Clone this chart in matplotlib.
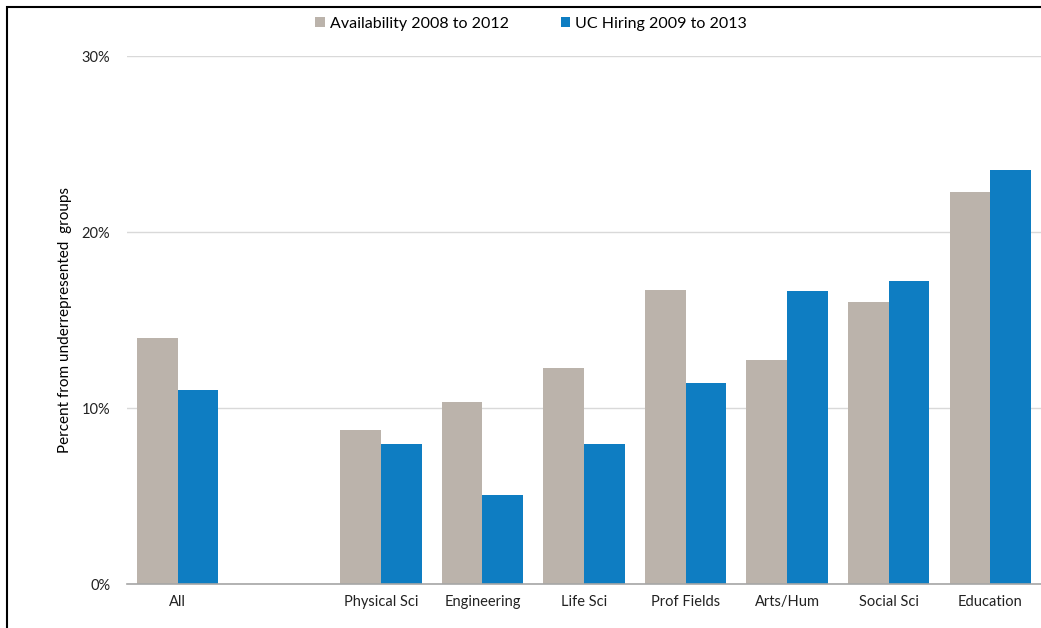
import numpy as np
import matplotlib.pyplot as plt
from matplotlib.patches import Rectangle

plt.rcParams['font.family'] = ['Lato', 'DejaVu Sans']

categories = ['All', '', 'Physical Sci', 'Engineering', 'Life Sci',
              'Prof Fields', 'Arts/Hum', 'Social Sci', 'Education']
availability = [14.0, np.nan, 8.75, 10.35, 12.3, 16.7, 12.7, 16.0, 22.3]
uc_hiring = [11.0, np.nan, 7.95, 5.05, 7.95, 11.4, 16.65, 17.2, 23.5]

gray = '#BBB3AB'
blue = '#0E7DC2'

fig = plt.figure(figsize=(10.41, 6.28), dpi=100)
ax = fig.add_axes([127/1041, 1 - 584/628, (1041 - 127)/1041, (584 - 56)/628])

x = np.arange(len(categories))
w = 0.4
ax.bar(x - w/2, availability, w, color=gray, label='Availability 2008 to 2012')
ax.bar(x + w/2, uc_hiring, w, color=blue, label='UC Hiring 2009 to 2013')

ax.set_xlim(-0.5, len(categories) - 0.5)
ax.set_ylim(0, 30)
ax.set_yticks([0, 10, 20, 30])
ax.set_yticklabels(['0%', '10%', '20%', '30%'])
ax.set_xticks(x)
ax.set_xticklabels(categories)
ax.tick_params(length=0, labelsize=10.5, colors='#222222')
ax.tick_params(axis='y', pad=12)
ax.tick_params(axis='x', pad=8)
ax.grid(axis='y', color='#D9D9D9', lw=1)
ax.set_axisbelow(True)
for s in ['top', 'right', 'left']:
    ax.spines[s].set_visible(False)
ax.spines['bottom'].set_color('#A6A6A6')
ax.spines['bottom'].set_linewidth(1.2)

ax.set_ylabel('Percent from underrepresented  groups', fontsize=11)
ax.yaxis.set_label_coords(-0.06, 0.5)

fig.legend(loc='center', bbox_to_anchor=(531/1041, 1 - 24/628), ncol=2,
           frameon=False, fontsize=11.5, handlelength=0.6, handleheight=0.6,
           handletextpad=0.3, columnspacing=3.25)

# outer frame of the original picture
fig.add_artist(Rectangle((7/1041, -0.05), 1.1, 1 - 7/628 + 0.05,
                         transform=fig.transFigure, fill=False,
                         edgecolor='black', lw=1.5))

plt.savefig('out.png', dpi=100)
